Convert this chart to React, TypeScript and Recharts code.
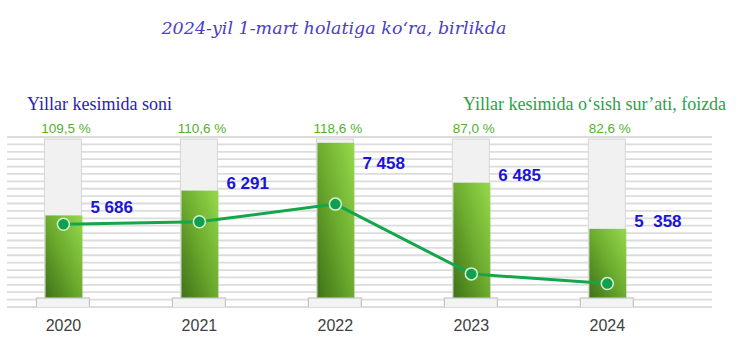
import React from "react";
import {
  ComposedChart,
  Bar,
  Line,
  XAxis,
  YAxis,
  CartesianGrid,
  LabelList,
} from "recharts";

// Dannye s kartinki
const YEARS = [2020, 2021, 2022, 2023, 2024];
const COUNTS = [5686, 6291, 7458, 6485, 5358];
const COUNT_LABELS = ["5 686", "6 291", "7 458", "6 485", "5  358"];
const GROWTH = [109.5, 110.6, 118.6, 87.0, 82.6];
const GROWTH_LABELS = ["109,5 %", "110,6 %", "118,6 %", "87,0 %", "82,6 %"];

const data = YEARS.map((year, i) => ({
  year,
  soni: COUNTS[i],
  surat: GROWTH[i],
}));

const PLOT_TOP = 137;
const SANS = "'Liberation Sans', Arial, sans-serif";
const SERIF = "'Liberation Serif', 'Times New Roman', serif";

// seryi fon stolbika + procent nad nim
function renderBackground(props: any) {
  const { x, y, width, height, index } = props;
  return (
    <g key={`bg-${index}`}>
      <rect
        x={x}
        y={y + 2}
        width={width}
        height={height - 11}
        fill="#f1f1f1"
        stroke="#d6d6d6"
        strokeWidth={1}
      />
      <text
        x={x + width / 2 + 3}
        y={y - 4}
        textAnchor="middle"
        fill="#55b02e"
        fontSize={13.5}
        fontFamily={SANS}
      >
        {GROWTH_LABELS[index]}
      </text>
    </g>
  );
}

// zelenyi stolbik s gradientom + podstavka
function renderBar(props: any) {
  const { x, y, width, height } = props;
  const base = y + height;
  return (
    <g>
      <rect
        x={x + 1}
        y={y}
        width={width}
        height={Math.max(0, height - 9)}
        fill="url(#barGrad)"
      />
      <rect
        x={x - 8}
        y={base - 9}
        width={width + 16}
        height={14}
        fill="#f3f3f3"
        stroke="#c4c4c4"
        strokeWidth={1.2}
      />
    </g>
  );
}

function renderCountLabel(props: any) {
  const vb = props.viewBox ?? props;
  const { x, y, width } = vb;
  const cy = Math.max(y - 8, PLOT_TOP + 26);
  return (
    <text
      x={x + width + 9}
      y={cy + 6}
      fill="#1c14d6"
      fontSize={17}
      fontWeight="bold"
      fontFamily={SANS}
      style={{ whiteSpace: "pre" }}
    >
      {COUNT_LABELS[props.index]}
    </text>
  );
}

function YearTick(props: any) {
  const { x, y, payload } = props;
  return (
    <text
      x={x}
      y={y + 24}
      textAnchor="middle"
      fill="#404040"
      fontSize={16}
      fontFamily={SANS}
    >
      {payload.value}
    </text>
  );
}

export default function App() {
  return (
    <div
      style={{
        position: "absolute",
        left: 0,
        top: 0,
        width: 738,
        height: 358,
        background: "#fff",
      }}
    >
      <div
        style={{
          position: "absolute",
          left: 0,
          width: 668,
          top: 18,
          textAlign: "center",
          fontFamily: "'DejaVu Serif', serif",
          fontStyle: "italic",
          fontSize: 17.5,
          color: "#4b40c8",
          whiteSpace: "nowrap",
        }}
      >
        2024-yil 1-mart holatiga ko‘ra, birlikda
      </div>
      <div
        style={{
          position: "absolute",
          left: 27,
          top: 94,
          fontFamily: SERIF,
          fontSize: 18,
          color: "#2a1db5",
          whiteSpace: "nowrap",
        }}
      >
        Yillar kesimida soni
      </div>
      <div
        style={{
          position: "absolute",
          left: 463,
          top: 94,
          fontFamily: SERIF,
          fontSize: 18,
          color: "#27a34b",
          whiteSpace: "nowrap",
        }}
      >
        Yillar kesimida o‘sish sur’ati, foizda
      </div>
      <ComposedChart
        width={738}
        height={358}
        data={data}
        margin={{ top: PLOT_TOP, right: 26, bottom: 21, left: 7 }}
      >
        <defs>
          <linearGradient id="barGrad" x1="0" y1="1" x2="1" y2="0">
            <stop offset="0%" stopColor="#3e7317" />
            <stop offset="50%" stopColor="#6cab2e" />
            <stop offset="100%" stopColor="#96d94c" />
          </linearGradient>
        </defs>
        <CartesianGrid
          vertical={false}
          stroke="#dcdcdc"
          strokeWidth={1.8}
          horizontalCoordinatesGenerator={({ offset }: any) =>
            Array.from(
              { length: 24 },
              (_, i) => offset.top + (i * offset.height) / 23
            )
          }
        />
        <XAxis
          dataKey="year"
          type="number"
          domain={[2019.585, 2024.77]}
          ticks={YEARS}
          allowDataOverflow
          axisLine={false}
          tickLine={false}
          tickSize={0}
          tickMargin={0}
          height={30}
          tick={<YearTick />}
        />
        <YAxis yAxisId="soni" hide domain={[3450, 7600]} allowDataOverflow />
        <YAxis
          yAxisId="surat"
          orientation="right"
          hide
          domain={[72, 149]}
          allowDataOverflow
        />
        <Bar
          yAxisId="soni"
          dataKey="soni"
          barSize={37}
          background={renderBackground}
          shape={renderBar}
          isAnimationActive={false}
        >
          <LabelList dataKey="soni" content={renderCountLabel} />
        </Bar>
        <Line
          yAxisId="surat"
          dataKey="surat"
          stroke="#14a64b"
          strokeWidth={3}
          dot={{ r: 6, fill: "#0f9f4d", stroke: "#d6f3d6", strokeWidth: 1.5 }}
          isAnimationActive={false}
        />
      </ComposedChart>
    </div>
  );
}
